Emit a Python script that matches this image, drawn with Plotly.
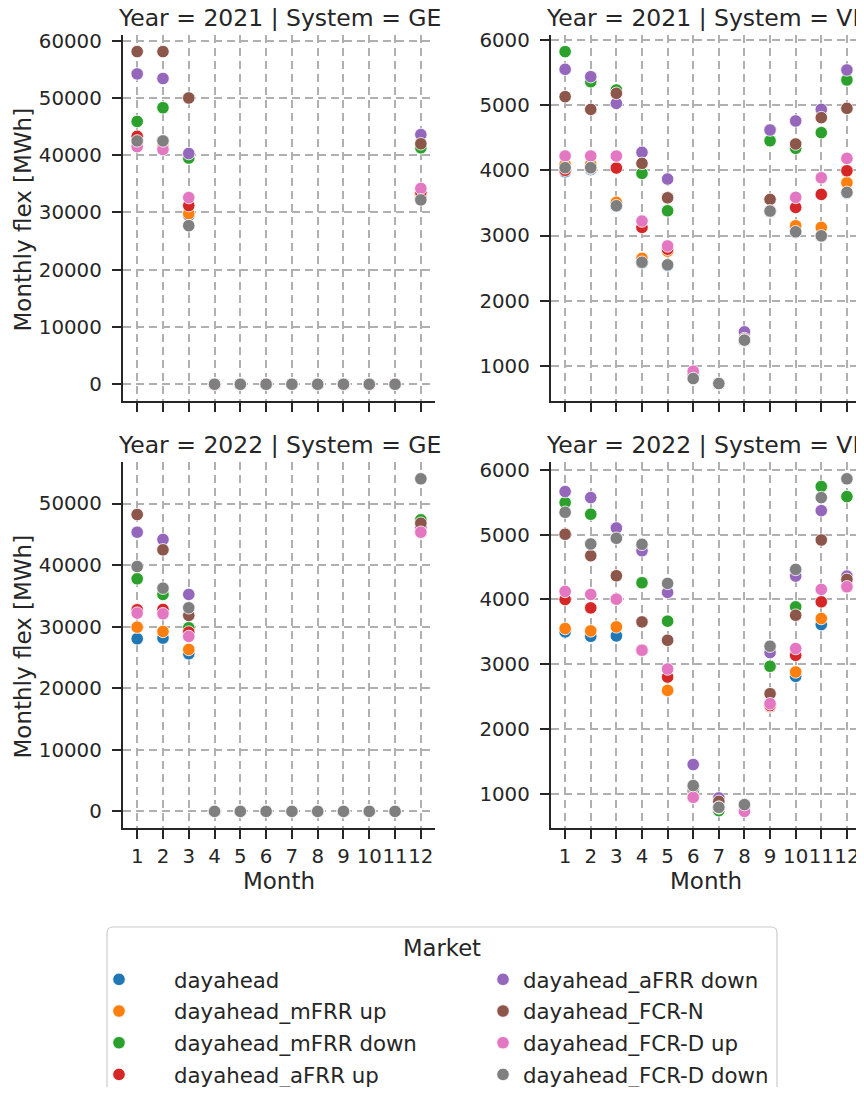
import plotly.graph_objects as go

months = list(range(1, 13))
month_labels = [str(m) for m in months]

markets = ["dayahead", "dayahead_mFRR up", "dayahead_mFRR down", "dayahead_aFRR up",
           "dayahead_aFRR down", "dayahead_FCR-N", "dayahead_FCR-D up", "dayahead_FCR-D down"]
colors = ["#1f77b4", "#ff7f0e", "#2ca02c", "#d62728", "#9467bd", "#8c564b", "#e377c2", "#7f7f7f"]

# Year 2021, System GE (months 1..12)
ge_2021_dayahead = [42000, 41200, 29500, 0, 0, 0, 0, 0, 0, 0, 0, 32500]
ge_2021_mfrr_up = [42200, 41500, 29800, 0, 0, 0, 0, 0, 0, 0, 0, 32700]
ge_2021_mfrr_down = [45900, 48300, 39500, 0, 0, 0, 0, 0, 0, 0, 0, 41300]
ge_2021_afrr_up = [43300, 42500, 31200, 0, 0, 0, 0, 0, 0, 0, 0, 33500]
ge_2021_afrr_down = [54200, 53400, 40300, 0, 0, 0, 0, 0, 0, 0, 0, 43600]
ge_2021_fcrn = [58100, 58100, 50000, 0, 0, 0, 0, 0, 0, 0, 0, 42000]
ge_2021_fcrd_up = [41500, 41000, 32600, 0, 0, 0, 0, 0, 0, 0, 0, 34200]
ge_2021_fcrd_down = [42500, 42500, 27700, 0, 0, 0, 0, 0, 0, 0, 0, 32200]

# Year 2021, System VF
vf_2021_dayahead = [3977, 4010, 3450, 2580, 2540, 850, 720, 1380, 3360, 3050, 2990, 3650]
vf_2021_mfrr_up = [4090, 4090, 3508, 2650, 2760, 860, 725, 1390, 3370, 3149, 3124, 3808]
vf_2021_mfrr_down = [5818, 5357, 5230, 3952, 3379, 870, 725, 1400, 4452, 4336, 4576, 5383]
vf_2021_afrr_up = [4000, 4030, 4034, 3124, 2790, 870, 725, 1390, 3370, 3430, 3630, 3992]
vf_2021_afrr_down = [5547, 5434, 5025, 4275, 3865, 880, 730, 1523, 4617, 4755, 4933, 5537]
vf_2021_fcrn = [5128, 4933, 5179, 4105, 3578, 880, 730, 1420, 3553, 4402, 4806, 4949]
vf_2021_fcrd_up = [4218, 4218, 4218, 3221, 2840, 920, 730, 1400, 3375, 3584, 3885, 4182]
vf_2021_fcrd_down = [4039, 4039, 3456, 2590, 2550, 808, 731, 1396, 3374, 3057, 2995, 3661]

# Year 2022, System GE
ge_2022_dayahead = [28040, 28140, 25600, 0, 0, 0, 0, 0, 0, 0, 0, 45200]
ge_2022_mfrr_up = [29920, 29220, 26300, 0, 0, 0, 0, 0, 0, 0, 0, 45300]
ge_2022_mfrr_down = [37770, 35230, 29820, 0, 0, 0, 0, 0, 0, 0, 0, 47350]
ge_2022_afrr_up = [32740, 32790, 29110, 0, 0, 0, 0, 0, 0, 0, 0, 45500]
ge_2022_afrr_down = [45340, 44160, 35230, 0, 0, 0, 0, 0, 0, 0, 0, 46100]
ge_2022_fcrn = [48210, 42480, 31820, 0, 0, 0, 0, 0, 0, 0, 0, 46800]
ge_2022_fcrd_up = [32200, 32090, 28410, 0, 0, 0, 0, 0, 0, 0, 0, 45340]
ge_2022_fcrd_down = [39770, 36250, 33060, 0, 0, 0, 0, 0, 0, 0, 0, 54010]

# Year 2022, System VF
vf_2022_dayahead = [3497, 3430, 3435, 3210, 2590, 940, 750, 800, 2340, 2811, 3611, 4190]
vf_2022_mfrr_up = [3549, 3513, 3575, 3215, 2594, 945, 760, 800, 2350, 2878, 3704, 4195]
vf_2022_mfrr_down = [5494, 5314, 4950, 4256, 3663, 1046, 737, 810, 2966, 3884, 5742, 5587]
vf_2022_afrr_up = [3998, 3868, 4000, 3215, 2800, 950, 780, 800, 2360, 3136, 3962, 4200]
vf_2022_afrr_down = [5664, 5571, 5102, 4751, 4107, 1449, 933, 820, 3178, 4359, 5370, 4359]
vf_2022_fcrn = [5005, 4674, 4364, 3652, 3368, 1100, 880, 815, 2543, 3755, 4916, 4308]
vf_2022_fcrd_up = [4122, 4076, 4003, 3214, 2924, 943, 790, 726, 2388, 3240, 4153, 4194]
vf_2022_fcrd_down = [5345, 4854, 4943, 4850, 4246, 1124, 788, 830, 3276, 4462, 5571, 5861]

panels = [
    ("Year = 2021 | System = GE", "x", "y",
     [ge_2021_dayahead, ge_2021_mfrr_up, ge_2021_mfrr_down, ge_2021_afrr_up,
      ge_2021_afrr_down, ge_2021_fcrn, ge_2021_fcrd_up, ge_2021_fcrd_down]),
    ("Year = 2021 | System = VF", "x2", "y2",
     [vf_2021_dayahead, vf_2021_mfrr_up, vf_2021_mfrr_down, vf_2021_afrr_up,
      vf_2021_afrr_down, vf_2021_fcrn, vf_2021_fcrd_up, vf_2021_fcrd_down]),
    ("Year = 2022 | System = GE", "x3", "y3",
     [ge_2022_dayahead, ge_2022_mfrr_up, ge_2022_mfrr_down, ge_2022_afrr_up,
      ge_2022_afrr_down, ge_2022_fcrn, ge_2022_fcrd_up, ge_2022_fcrd_down]),
    ("Year = 2022 | System = VF", "x4", "y4",
     [vf_2022_dayahead, vf_2022_mfrr_up, vf_2022_mfrr_down, vf_2022_afrr_up,
      vf_2022_afrr_down, vf_2022_fcrn, vf_2022_fcrd_up, vf_2022_fcrd_down]),
]

FONT = "DejaVu Sans"
TXT = "#262626"

W, H = 856, 1079          # page body has an 8px margin; keep the page from scrolling
ML, MR, MT, MB = 115, 3, 27, 259
PW, PH = W - ML - MR, H - MT - MB

fig = go.Figure()
for p_idx, (title, xa, ya, series) in enumerate(panels):
    for i, vals in enumerate(series):
        fig.add_trace(go.Scatter(
            x=months, y=vals, mode="markers", xaxis=xa, yaxis=ya,
            name=markets[i], legendgroup=markets[i], showlegend=(p_idx == 0),
            legend="legend" if i < 4 else "legend2",
            marker=dict(color=colors[i], size=12.5, line=dict(color="white", width=0.8)),
        ))

x_dom_left = [0.0, 0.4228]
x_dom_right = [0.58, 1.0]
y_dom_top = [0.5386, 1.0]
y_dom_bot = [0.0, 0.4613]

common_x = dict(range=[0.45, 12.55], tickvals=months, ticktext=month_labels, tickangle=0,
                showline=True, linecolor=TXT, linewidth=2, ticks="outside", ticklen=9,
                tickwidth=2, tickcolor=TXT, showgrid=True, gridcolor="#b0b0b0",
                gridwidth=1.5, griddash="8px,5px", zeroline=False,
                tickfont=dict(family=FONT, size=19.8, color=TXT))
common_y = dict(showline=True, linecolor=TXT, linewidth=2, ticks="outside", ticklen=9,
                tickwidth=2, tickcolor=TXT, showgrid=True, gridcolor="#b0b0b0",
                gridwidth=1.5, griddash="8px,5px", zeroline=False, tickformat="d",
                ticksuffix="\u00a0",
                tickfont=dict(family=FONT, size=19.8, color=TXT))

xtitle = dict(text="Month", font=dict(family=FONT, size=23, color=TXT), standoff=6)

leg_common = dict(orientation="v", xref="container", yref="container",
                  xanchor="left", yanchor="top",
                  font=dict(family=FONT, size=21.3, color=TXT),
                  borderwidth=0, bgcolor="rgba(0,0,0,0)", tracegroupgap=1)

fig.update_layout(
    width=W, height=H,
    margin=dict(l=ML, r=MR, t=MT, b=MB, autoexpand=False),
    plot_bgcolor="white", paper_bgcolor="white",
    font=dict(family=FONT, color=TXT),
    xaxis=dict(domain=x_dom_left, anchor="y", showticklabels=False, **common_x),
    yaxis=dict(domain=y_dom_top, anchor="x", range=[-2905, 61000], dtick=10000, tick0=0, **common_y),
    xaxis2=dict(domain=x_dom_right, anchor="y2", showticklabels=False, **common_x),
    yaxis2=dict(domain=y_dom_top, anchor="x2", range=[465, 6073], dtick=1000, tick0=0, **common_y),
    xaxis3=dict(domain=x_dom_left, anchor="y3", title=xtitle, **common_x),
    yaxis3=dict(domain=y_dom_bot, anchor="x3", range=[-2700, 56710], dtick=10000, tick0=0, **common_y),
    xaxis4=dict(domain=x_dom_right, anchor="y4", title=xtitle, **common_x),
    yaxis4=dict(domain=y_dom_bot, anchor="x4", range=[469, 6118], dtick=1000, tick0=0, **common_y),
    legend=dict(x=56 / W, y=1 - 951 / H, itemwidth=100, **leg_common),
    legend2=dict(x=475 / W, y=1 - 951 / H, itemwidth=30, **leg_common),
)

def px_x(v):
    return (v - ML) / PW

def px_y(v):
    return (MT + PH - v) / PH

# y-axis titles
for yc in (212, 639):
    fig.add_annotation(text="Monthly flex [MWh]", x=px_x(14.5), y=px_y(yc), xref="paper",
                       yref="paper", xanchor="center", yanchor="middle", textangle=-90,
                       showarrow=False, font=dict(family=FONT, size=23, color=TXT))

# legend frame (rounded top corners) and title
x0, x1 = px_x(99), px_x(769)
yt, yb = px_y(919), px_y(1100)
rx, ry = 6 / PW, 6 / PH
frame = (f"M {x0},{yb} L {x0},{yt - ry} Q {x0},{yt} {x0 + rx},{yt} "
         f"L {x1 - rx},{yt} Q {x1},{yt} {x1},{yt - ry} L {x1},{yb}")
fig.add_shape(type="path", path=frame, xref="paper", yref="paper",
              line=dict(color="#cccccc", width=1.2))
fig.add_annotation(text="Market", x=px_x(434), y=px_y(940), xref="paper", yref="paper",
                   xanchor="center", yanchor="middle", showarrow=False,
                   font=dict(family=FONT, size=22.7, color=TXT))

title_pos = [
    (sum(x_dom_left) / 2, y_dom_top[1]),
    (sum(x_dom_right) / 2, y_dom_top[1]),
    (sum(x_dom_left) / 2, y_dom_bot[1]),
    (sum(x_dom_right) / 2, y_dom_bot[1]),
]
for (title, _, _, _), (tx, ty) in zip(panels, title_pos):
    fig.add_annotation(text=title, x=tx, y=ty, xref="paper", yref="paper",
                       xanchor="center", yanchor="bottom", yshift=1, showarrow=False,
                       font=dict(family=FONT, size=23.5, color=TXT))

fig.write_html("out.html")
